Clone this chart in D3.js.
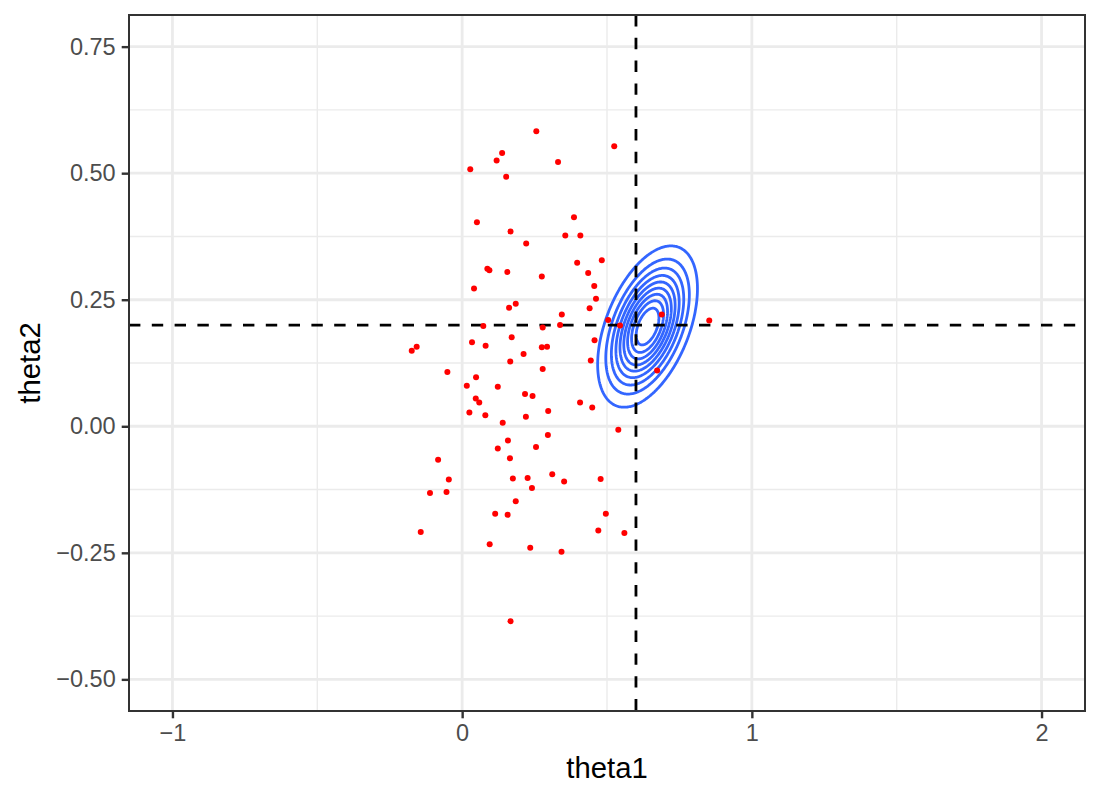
<!DOCTYPE html>
<html>
<head>
<meta charset="utf-8">
<script src="https://cdn.jsdelivr.net/npm/d3@7"></script>
<style>
  body { margin: 0; background: #fff; }
  svg text { font-family: "Liberation Sans", Arial, Helvetica, sans-serif; }
</style>
</head>
<body>
<svg id="main" width="1100" height="800"></svg>
<script>
var theta1 = [0.028, 0.119, 0.138, 0.152, 0.256, 0.331, 0.525, 0.051, 0.167, 0.386,
  0.356, 0.408, 0.221, 0.087, 0.094, 0.156, 0.275, 0.397, 0.482, 0.435,
  0.456, 0.041, 0.462, 0.162, 0.185, 0.344, 0.440, 0.073, 0.278, 0.338,
  0.504, 0.545, 0.689, 0.853, 0.034, 0.081, 0.171, -0.174, -0.157, 0.275,
  0.293, 0.212, 0.166, 0.278, 0.457, -0.051, 0.048, 0.016, 0.123, 0.047,
  0.059, 0.217, 0.243, 0.407, 0.449, 0.444, 0.673, 0.025, 0.080, 0.220,
  0.297, 0.140, 0.296, 0.158, 0.123, 0.255, 0.539, -0.083, 0.165, -0.046,
  0.175, 0.226, 0.311, 0.352, 0.478, -0.111, -0.054, 0.241, 0.185, 0.114,
  0.157, 0.496, -0.143, 0.470, 0.560, 0.095, 0.235, 0.343, 0.167];
var theta2 = [0.508, 0.525, 0.540, 0.493, 0.583, 0.522, 0.553, 0.403, 0.385, 0.413,
  0.377, 0.377, 0.361, 0.311, 0.308, 0.305, 0.296, 0.323, 0.328, 0.303,
  0.277, 0.272, 0.252, 0.234, 0.242, 0.221, 0.233, 0.198, 0.195, 0.200,
  0.210, 0.199, 0.221, 0.209, 0.166, 0.159, 0.176, 0.149, 0.157, 0.156,
  0.157, 0.143, 0.128, 0.113, 0.170, 0.107, 0.097, 0.080, 0.078, 0.055,
  0.047, 0.064, 0.060, 0.047, 0.037, 0.130, 0.110, 0.027, 0.022, 0.019,
  0.030, 0.007, -0.017, -0.028, -0.044, -0.041, -0.007, -0.066, -0.063, -0.105,
  -0.103, -0.102, -0.095, -0.109, -0.104, -0.132, -0.130, -0.122, -0.148, -0.173,
  -0.175, -0.173, -0.209, -0.206, -0.211, -0.233, -0.240, -0.248, -0.385];

// density of the fitted estimate (contours)
var densityMean = [0.640, 0.197];
var densitySd = [0.080, 0.074];
var densityRho = 0.47;
var densityLevels = [3, 6, 9, 12, 15, 18, 21, 24, 27];

// reference lines
var refTheta1 = 0.6;
var refTheta2 = 0.2;

// axes
var xLimits = [-1, 2];
var yLimits = [-0.5, 0.75];
var xTicks = [-1, 0, 1, 2];
var xTickLabels = ['\u22121', '0', '1', '2'];
var xMinor = [-0.5, 0.5, 1.5];
var yTicks = [-0.5, -0.25, 0, 0.25, 0.5, 0.75];
var yTickLabels = ['\u22120.50', '\u22120.25', '0.00', '0.25', '0.50', '0.75'];
var yMinor = [-0.375, -0.125, 0.125, 0.375, 0.625];

(function () {
var svg = d3.select('#main');
var pad = {t: 15, r: 15, b: 89, l: 129};
var W = +svg.attr('width'), H = +svg.attr('height');
var pw = W - pad.l - pad.r, ph = H - pad.t - pad.b;

// ggplot style 5% expansion
var xe = (xLimits[1] - xLimits[0]) * 0.05;
var ye = (yLimits[1] - yLimits[0]) * 0.05;
var x = d3.scaleLinear().domain([xLimits[0] - xe, xLimits[1] + xe]).range([0, pw]);
var y = d3.scaleLinear().domain([yLimits[0] - ye, yLimits[1] + ye]).range([ph, 0]);

var g = svg.append('g').attr('transform', `translate(${pad.l},${pad.t})`);

svg.append('defs').append('clipPath').attr('id', 'clip')
  .append('rect').attr('width', pw).attr('height', ph);

// grid
var grid = g.append('g');
grid.selectAll('.xminor').data(xMinor).enter().append('line')
  .attr('x1', d => x(d)).attr('x2', d => x(d)).attr('y1', 0).attr('y2', ph)
  .attr('stroke', '#EBEBEB').attr('stroke-width', 1.4);
grid.selectAll('.yminor').data(yMinor).enter().append('line')
  .attr('y1', d => y(d)).attr('y2', d => y(d)).attr('x1', 0).attr('x2', pw)
  .attr('stroke', '#EBEBEB').attr('stroke-width', 1.4);
grid.selectAll('.xmajor').data(xTicks).enter().append('line')
  .attr('x1', d => x(d)).attr('x2', d => x(d)).attr('y1', 0).attr('y2', ph)
  .attr('stroke', '#EBEBEB').attr('stroke-width', 2.8);
grid.selectAll('.ymajor').data(yTicks).enter().append('line')
  .attr('y1', d => y(d)).attr('y2', d => y(d)).attr('x1', 0).attr('x2', pw)
  .attr('stroke', '#EBEBEB').attr('stroke-width', 2.8);

var plot = g.append('g').attr('clip-path', 'url(#clip)');

// density grid -> contours
var gx0 = 0.2, gx1 = 1.1, gy0 = -0.25, gy1 = 0.65, n = 300, m = 300;
var dx = (gx1 - gx0) / n, dy = (gy1 - gy0) / m;
var sx = densitySd[0], sy = densitySd[1], r = densityRho;
var norm = 1 / (2 * Math.PI * sx * sy * Math.sqrt(1 - r * r));
var values = new Array(n * m);
for (var j = 0; j < m; j++) {
  for (var i = 0; i < n; i++) {
    var u = (gx0 + (i + 0.5) * dx - densityMean[0]) / sx;
    var v = (gy0 + (j + 0.5) * dy - densityMean[1]) / sy;
    var q = (u * u - 2 * r * u * v + v * v) / (1 - r * r);
    values[j * n + i] = norm * Math.exp(-q / 2);
  }
}
var contours = d3.contours().size([n, m]).thresholds(densityLevels)(values);
var toPx = d3.geoTransform({
  point: function (px, py) {
    this.stream.point(x(gx0 + px * dx), y(gy0 + py * dy));
  }
});
plot.selectAll('.contour').data(contours).enter().append('path')
  .attr('class', 'contour')
  .attr('d', d3.geoPath(toPx))
  .attr('fill', 'none')
  .attr('stroke', '#3366FF')
  .attr('stroke-width', 2.8)
  .attr('stroke-linejoin', 'round');

// reference lines
plot.append('line')
  .attr('x1', x(refTheta1)).attr('x2', x(refTheta1)).attr('y1', 0).attr('y2', ph)
  .attr('stroke', '#000').attr('stroke-width', 2.8).attr('stroke-dasharray', '11.4,11.4');
plot.append('line')
  .attr('y1', y(refTheta2)).attr('y2', y(refTheta2)).attr('x1', 0).attr('x2', pw)
  .attr('stroke', '#000').attr('stroke-width', 2.8).attr('stroke-dasharray', '11.4,11.4');

// points
plot.selectAll('.pt').data(theta1).enter().append('circle')
  .attr('class', 'pt')
  .attr('cx', d => x(d))
  .attr('cy', (d, i) => y(theta2[i]))
  .attr('r', 3)
  .attr('fill', '#FF0000');

// panel border
g.append('rect').attr('width', pw).attr('height', ph)
  .attr('fill', 'none').attr('stroke', '#333333').attr('stroke-width', 2);

// axes
var xAxis = g.append('g').attr('transform', `translate(0,${ph})`)
  .call(d3.axisBottom(x).tickValues(xTicks).tickSize(7.3).tickPadding(6)
    .tickFormat((d, i) => xTickLabels[i]));
var yAxis = g.append('g')
  .call(d3.axisLeft(y).tickValues(yTicks).tickSize(7.3).tickPadding(6)
    .tickFormat((d, i) => yTickLabels[i]));
[xAxis, yAxis].forEach(function (a) {
  a.select('.domain').remove();
  a.selectAll('line').attr('stroke', '#333333').attr('stroke-width', 2.4);
  a.selectAll('text').attr('fill', '#4D4D4D').style('font-size', '23.5px')
    .style('font-family', '"Liberation Sans", Arial, sans-serif');
});

// titles
svg.append('text')
  .attr('x', pad.l + pw / 2).attr('y', 778)
  .style('text-anchor', 'middle').style('font-size', '29.3px')
  .attr('fill', '#000').text('theta1');
svg.append('text')
  .attr('transform', `translate(40,${pad.t + ph / 2}) rotate(-90)`)
  .style('text-anchor', 'middle').style('font-size', '29.3px')
  .attr('fill', '#000').text('theta2');
})();
</script>
</body>
</html>
